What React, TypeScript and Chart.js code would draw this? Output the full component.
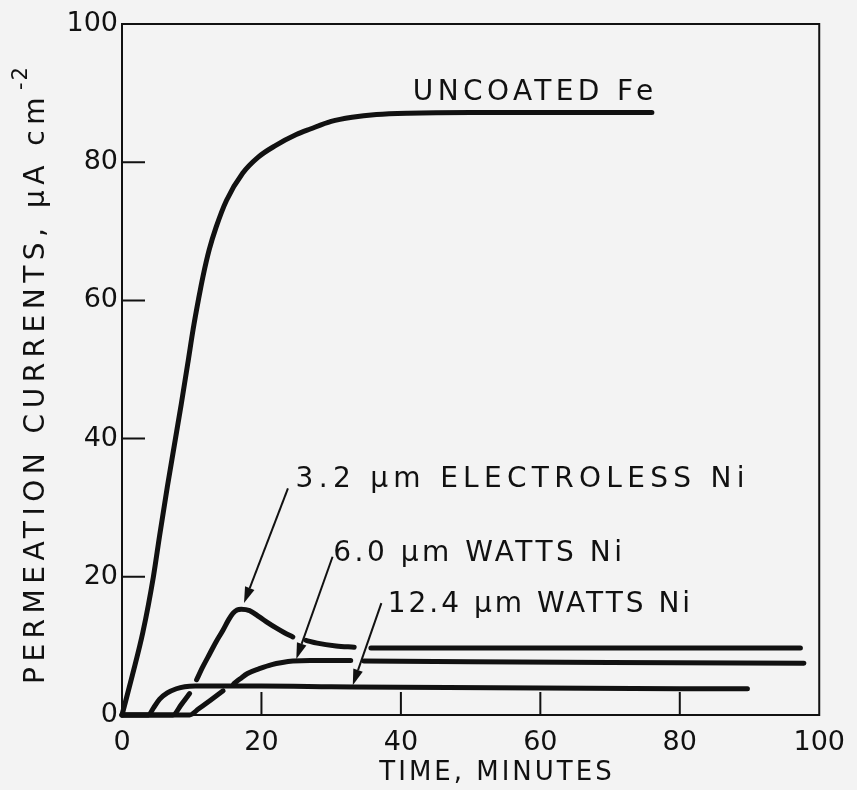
import React, { useEffect, useRef } from "react";
import { Chart, registerables } from "chart.js";

Chart.register(...registerables);

// ---------- data ----------
const xTickValues = [0, 20, 40, 60, 80, 100];
const yTickValues = [0, 20, 40, 60, 80, 100];

// Uncoated Fe
const feT = [0, 1.5, 3, 4.5, 5.4, 6.5, 7.5, 8.5, 9.5, 10.2, 11, 11.6, 12.5, 13.5, 15, 17.3, 19.5, 22, 25, 27, 30, 33, 36.5, 41, 50, 60, 70, 76];
const feY = [0, 5.8, 12, 20, 26, 33, 39, 45, 51.3, 55.8, 60.3, 63.4, 67.3, 70.6, 74.5, 78.4, 80.7, 82.4, 84, 84.8, 85.9, 86.5, 86.9, 87.1, 87.2, 87.2, 87.2, 87.2];

// 3.2 um electroless Ni (null = pen break)
const ni32T = [0, 7.3, 8.5, 9.7, 10.2, 10.7, 11.6, 12.6, 13.5, 14.5, 15.3, 15.9, 16.5, 17.1, 18.3, 19.7, 21, 22.1, 23.3, 24.5, 25.5, 26.4, 28, 30.7, 33.3, 34.5, 35.7, 50, 70, 97.3];
const ni32Y = [0, 0, 1.5, 3.1, null, 5.1, 7, 8.9, 10.6, 12.3, 13.8, 14.7, 15.2, 15.3, 15.1, 14.2, 13.3, 12.6, 11.9, 11.3, null, 10.8, 10.4, 10.0, 9.8, null, 9.7, 9.7, 9.7, 9.7];

// 6.0 um Watts Ni
const ni60T = [0, 9.7, 11, 12.5, 14.5, 15.3, 16, 16.9, 18, 19.7, 21.5, 23, 24.5, 27, 30, 32.8, 33.7, 34.7, 50, 70, 97.8];
const ni60Y = [0, 0, 0.9, 2, 3.5, null, 4.5, 5.2, 6.0, 6.7, 7.3, 7.6, 7.8, 7.9, 7.9, 7.9, null, 7.8, 7.7, 7.6, 7.5];

// 12.4 um Watts Ni
const ni124T = [0, 3.8, 4.5, 5.4, 6.5, 7.8, 9, 10.5, 20, 30, 40, 60, 80, 89.7];
const ni124Y = [0, 0, 1.0, 2.3, 3.2, 3.8, 4.1, 4.2, 4.2, 4.1, 4.0, 3.9, 3.8, 3.8];

// annotation texts (left edge / vertical centre, in data units)
const labelTexts = ["UNCOATED Fe", "3.2 \u00b5m ELECTROLESS Ni", "6.0 \u00b5m WATTS Ni", "12.4 \u00b5m WATTS Ni"];
const labelX = [41.7, 24.9, 30.3, 38.1];
const labelY = [90.0, 34.0, 23.4, 15.9];
const labelSpacing = [4.4, 5.3, 3.5, 3];

// arrows (tail -> head, data units)
const arrowFromX = [23.8, 30.2, 37.2];
const arrowFromY = [32.8, 22.9, 16.2];
const arrowToX = [17.5, 25.0, 33.1];
const arrowToY = [16.2, 8.1, 4.3];

const xTitle = "TIME, MINUTES";
const yTitle = "PERMEATION CURRENTS, \u00b5A cm";
const yTitleSup = "-2";

const FONT = "'DejaVu Sans', 'Liberation Sans', sans-serif";
const INK = "#111";
const BG = "#f3f3f3";

const pts = (t: number[], y: (number | null)[]) => t.map((x, i) => ({ x, y: y[i] }));

const paperPlugin = {
  id: "paper",
  beforeDraw(chart: any) {
    const ctx = chart.ctx;
    ctx.save();
    ctx.fillStyle = BG;
    ctx.fillRect(0, 0, chart.width, chart.height);
    ctx.restore();
  },
  beforeDatasetsDraw(chart: any) {
    const { ctx, chartArea: a, scales } = chart;
    ctx.save();
    ctx.strokeStyle = INK;
    ctx.lineWidth = 2;
    ctx.strokeRect(a.left, a.top, a.right - a.left, a.bottom - a.top);
    ctx.beginPath();
    scales.x.ticks.forEach((tk: any) => {
      if (tk.value <= 0 || tk.value >= 100) return;
      const px = scales.x.getPixelForValue(tk.value);
      ctx.moveTo(px, a.bottom);
      ctx.lineTo(px, a.bottom - 23);
    });
    scales.y.ticks.forEach((tk: any) => {
      if (tk.value <= 0 || tk.value >= 100) return;
      const py = scales.y.getPixelForValue(tk.value);
      ctx.moveTo(a.left, py);
      ctx.lineTo(a.left + 23, py);
    });
    ctx.stroke();
    ctx.restore();
  },
  afterDatasetsDraw(chart: any) {
    const { ctx, scales } = chart;
    const sx = scales.x;
    const sy = scales.y;
    ctx.save();
    ctx.fillStyle = INK;
    ctx.strokeStyle = INK;
    // labels
    ctx.font = `28px ${FONT}`;
    ctx.textAlign = "left";
    ctx.textBaseline = "middle";
    labelTexts.forEach((t, i) => {
      (ctx as any).letterSpacing = `${labelSpacing[i]}px`;
      ctx.fillText(t, sx.getPixelForValue(labelX[i]), sy.getPixelForValue(labelY[i]));
    });
    // arrows
    ctx.lineWidth = 2;
    arrowFromX.forEach((_, i) => {
      const x0 = sx.getPixelForValue(arrowFromX[i]);
      const y0 = sy.getPixelForValue(arrowFromY[i]);
      const x1 = sx.getPixelForValue(arrowToX[i]);
      const y1 = sy.getPixelForValue(arrowToY[i]);
      const ang = Math.atan2(y1 - y0, x1 - x0);
      const L = 16, W = 5;
      const bx = x1 - L * Math.cos(ang);
      const by = y1 - L * Math.sin(ang);
      ctx.beginPath();
      ctx.moveTo(x0, y0);
      ctx.lineTo(bx, by);
      ctx.stroke();
      ctx.beginPath();
      ctx.moveTo(x1, y1);
      ctx.lineTo(bx + W * Math.sin(ang), by - W * Math.cos(ang));
      ctx.lineTo(bx - W * Math.sin(ang), by + W * Math.cos(ang));
      ctx.closePath();
      ctx.fill();
    });
    // x title
    ctx.font = `26px ${FONT}`;
    (ctx as any).letterSpacing = "3px";
    ctx.textAlign = "center";
    ctx.textBaseline = "middle";
    ctx.fillText(xTitle, 497, 773);
    // y title
    ctx.translate(44, 684);
    ctx.rotate(-Math.PI / 2);
    ctx.textAlign = "left";
    ctx.textBaseline = "alphabetic";
    ctx.font = `28px ${FONT}`;
    (ctx as any).letterSpacing = "5.5px";
    ctx.fillText(yTitle, 0, 0);
    const w = ctx.measureText(yTitle).width;
    ctx.font = `21px ${FONT}`;
    (ctx as any).letterSpacing = "2px";
    ctx.fillText(yTitleSup, w + 2, -17);
    ctx.restore();
  },
};

export default function App() {
  const ref = useRef<HTMLCanvasElement | null>(null);

  useEffect(() => {
    document.body.style.margin = "0";
    document.body.style.background = BG;
    const canvas = ref.current!;
    const line = (data: any) => ({
      data,
      borderColor: INK,
      borderWidth: 5,
      pointRadius: 0,
      cubicInterpolationMode: "monotone" as const,
      spanGaps: false,
      clip: false as any,
      borderCapStyle: "round" as const,
      borderJoinStyle: "round" as const,
    });
    const chart = new Chart(canvas, {
      type: "line",
      data: {
        datasets: [
          { label: "UNCOATED Fe", ...line(pts(feT, feY)) },
          { label: "3.2 µm ELECTROLESS Ni", ...line(pts(ni32T, ni32Y)) },
          { label: "6.0 µm WATTS Ni", ...line(pts(ni60T, ni60Y)) },
          { label: "12.4 µm WATTS Ni", ...line(pts(ni124T, ni124Y)) },
        ],
      },
      options: {
        responsive: false,
        animation: false,
        parsing: true,
        layout: { padding: { top: 24, right: 37, left: 0, bottom: 0 } },
        plugins: { legend: { display: false }, tooltip: { enabled: false } },
        scales: {
          x: {
            type: "linear",
            min: 0,
            max: 100,
            afterBuildTicks: (s: any) => {
              s.ticks = xTickValues.map((v) => ({ value: v }));
            },
            afterFit: (s: any) => {
              s.height = 75;
            },
            ticks: {
              autoSkip: false,
              maxRotation: 0,
              padding: 12,
              color: INK,
              font: { family: FONT, size: 27 },
            },
            grid: { display: false, drawTicks: false },
            border: { display: false },
          },
          y: {
            type: "linear",
            min: 0,
            max: 100,
            afterBuildTicks: (s: any) => {
              s.ticks = yTickValues.map((v) => ({ value: v }));
            },
            afterFit: (s: any) => {
              s.width = 122;
            },
            ticks: {
              autoSkip: false,
              padding: 4,
              color: INK,
              font: { family: FONT, size: 27 },
            },
            grid: { display: false, drawTicks: false },
            border: { display: false },
          },
        },
      },
      plugins: [paperPlugin],
    });
    return () => chart.destroy();
  }, []);

  return (
    <div style={{ width: 857, height: 790, overflow: "hidden" }}>
      <canvas ref={ref} width={857} height={790} style={{ display: "block" }} />
    </div>
  );
}
